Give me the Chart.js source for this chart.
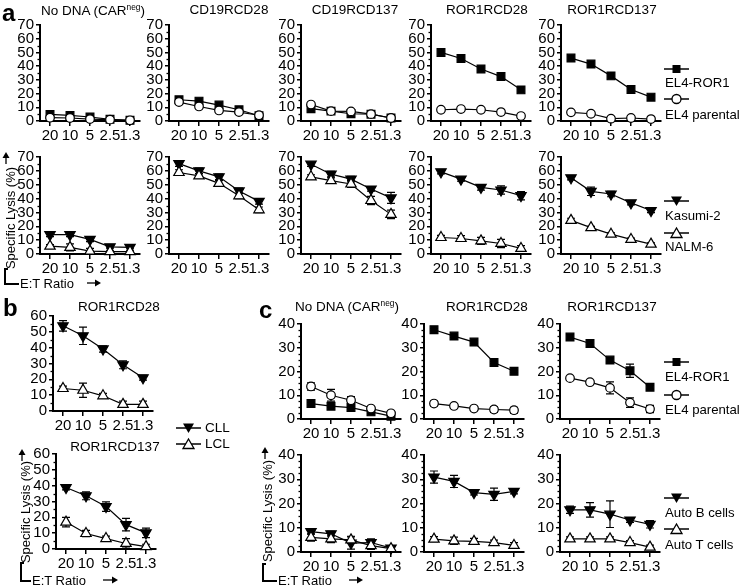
<!DOCTYPE html>
<html>
<head>
<meta charset="utf-8">
<script src="https://cdn.jsdelivr.net/npm/chart.js@4.4.1/dist/chart.umd.min.js"></script>
<style>
  html, body { margin: 0; padding: 0; background: #fff; }
  #stage { position: relative; width: 744px; height: 588px; overflow: hidden; }
  canvas { position: absolute; }
  .txt { position: absolute; line-height: 1; white-space: nowrap; color: #000;
         font-family: "Liberation Sans", Arial, sans-serif; }
  .ln { position: absolute; background: #000; }
  .sup { font-size: 0.62em; vertical-align: 0.55em; }
  svg { position: absolute; overflow: visible; }
</style>
</head>
<body>
<div id="stage"></div>
<script>
const etRatios = ["20", "10", "5", "2.5", "1.3"]

// a, top row: EL4-ROR1 (filled square) vs EL4 parental (open circle)
const aNoDnaRor1 = [4.8, 4.1, 2.9, 1.2, 0.5]
const aNoDnaParental = [2.4, 2.2, 1.4, 1.0, 0.5]
const aCd19Cd28Ror1 = [15.5, 14.5, 11.6, 8.2, 3.8]
const aCd19Cd28Parental = [13.8, 10.6, 7.7, 6.5, 4.2]
const aCd19Cd137Ror1 = [9, 7.2, 5.3, 5, 2.2]
const aCd19Cd137Parental = [12, 7.2, 7, 5, 2.2]
const aRor1Cd28Ror1 = [50, 45.6, 37.9, 32.4, 22.7]
const aRor1Cd28Parental = [8.2, 8.7, 8.2, 6.5, 3.6]
const aRor1Cd137Ror1 = [45.9, 41.5, 32.9, 23, 17.4]
const aRor1Cd137Parental = [6.3, 5.3, 1.7, 2.2, 1.4]
const aRor1Cd137ParentalErr = [1, 1, 1.5, 1.5, 1.5]

// a, bottom row: Kasumi-2 (filled down triangle) vs NALM-6 (open triangle)
const aNoDnaKasumi = [14, 14, 10.5, 5.2, 4.8]
const aNoDnaKasumiErr = [1.5, 1.5, 1.5, 1, 1]
const aNoDnaNalm = [5.7, 4.8, 2.1, 1.7, 1.7]
const aNoDnaNalmErr = [1, 2.5, 2, 1, 1]
const aCd19Cd28Kasumi = [65.2, 60, 55.7, 45.5, 38]
const aCd19Cd28KasumiErr = [2, 2, 2, 2, 2]
const aCd19Cd28Nalm = [58.8, 56.4, 51, 42, 31.9]
const aCd19Cd28NalmErr = [2, 1.5, 2, 2, 2]
const aCd19Cd137Kasumi = [64.8, 57.6, 54, 46.9, 40.5]
const aCd19Cd137KasumiErr = [1.5, 2, 2, 1.5, 4]
const aCd19Cd137Nalm = [55.7, 52.9, 50.5, 38.6, 28.6]
const aCd19Cd137NalmErr = [1.5, 2, 2.5, 3, 3]
const aRor1Cd28Kasumi = [59.3, 54, 48.1, 46.2, 42.1]
const aRor1Cd28KasumiErr = [1.5, 1.5, 2, 3, 3]
const aRor1Cd28Nalm = [11.9, 11.2, 9.5, 7.6, 4]
const aRor1Cd28NalmErr = [1.5, 2, 2.5, 3, 2]
const aRor1Cd137Kasumi = [55, 45.2, 43.3, 36.9, 31.4]
const aRor1Cd137KasumiErr = [1.5, 3, 2, 1.5, 1.5]
const aRor1Cd137Nalm = [24.3, 19, 14.3, 10.5, 7.1]
const aRor1Cd137NalmErr = [1.5, 1, 1, 1, 1]

// b: CLL vs LCL
const bCd28Cll = [53.8, 47.5, 39.2, 29.2, 21]
const bCd28CllErr = [3.3, 5.5, 2, 2.5, 1.5]
const bCd28Lcl = [14.2, 13.1, 9.6, 4.2, 4.2]
const bCd28LclErr = [1.5, 4.5, 1.5, 2, 2]
const bCd137Cll = [38.8, 33.6, 26.8, 15.4, 10.2]
const bCd137CllErr = [1.5, 2.5, 3, 4, 3]
const bCd137Lcl = [17, 9.8, 6.6, 3.5, 1.5]
const bCd137LclErr = [3, 2, 1.5, 3, 1.5]

// c, top row: EL4-ROR1 vs EL4 parental
const cNoDnaRor1 = [6.5, 5.4, 4.8, 3, 1.2]
const cNoDnaRor1Err = [0.5, 0.5, 0.5, 0.5, 0.5]
const cNoDnaParental = [13.7, 10, 7.9, 4.4, 2.4]
const cNoDnaParentalErr = [1.5, 2.5, 1.5, 0.8, 0.8]
const cRor1Cd28Ror1 = [37.6, 34.9, 32.4, 23.8, 20.1]
const cRor1Cd28Ror1Err = [0.5, 0.5, 0.5, 0.5, 0.5]
const cRor1Cd28Parental = [6.5, 5.5, 4.4, 4, 3.7]
const cRor1Cd28ParentalErr = [1, 0.5, 0.8, 1.2, 1.2]
const cRor1Cd137Ror1 = [34.5, 31.8, 24.8, 20.3, 13.4]
const cRor1Cd137Ror1Err = [1, 1.5, 0.8, 2.8, 0.8]
const cRor1Cd137Parental = [17.2, 15.5, 13.1, 6.9, 4.2]
const cRor1Cd137ParentalErr = [0.5, 0.8, 2.5, 2, 1.5]

// c, bottom row: Auto B cells vs Auto T cells
const cNoDnaAutoB = [8.4, 7.5, 3.7, 3.9, 1.6]
const cNoDnaAutoBErr = [1, 1, 2.5, 1.5, 1]
const cNoDnaAutoT = [6, 5.4, 5, 2.6, 1.4]
const cNoDnaAutoTErr = [1.5, 1.5, 1.5, 1.5, 1]
const cRor1Cd28AutoB = [30.9, 29.1, 24.5, 23.8, 25]
const cRor1Cd28AutoBErr = [2.5, 2.5, 1, 2.5, 1]
const cRor1Cd28AutoT = [5.3, 4.6, 4.4, 3.9, 2.7]
const cRor1Cd28AutoTErr = [1, 1.5, 1.2, 1, 1.2]
const cRor1Cd137AutoB = [17.4, 17.4, 15.6, 13.2, 11.4]
const cRor1Cd137AutoBErr = [1.5, 3, 5.5, 1, 1.5]
const cRor1Cd137AutoT = [5.4, 5.4, 5.4, 3.9, 2]
const cRor1Cd137AutoTErr = [0.8, 0.8, 0.8, 0.8, 0.8]

const FONT = "'Liberation Sans', Arial, sans-serif"
const YW = 34, PW = 100, PR = 14, PT = 10, XH = 26

const marker = {
  square: { pointStyle: "rect", pointRadius: 5.5, pointBackgroundColor: "#000" },
  circle: { pointStyle: "circle", pointRadius: 4.3, pointBackgroundColor: "#fff" },
  triDown: { pointStyle: "triangle", pointRadius: 6, pointRotation: 180, pointBackgroundColor: "#000" },
  triUp: { pointStyle: "triangle", pointRadius: 6, pointBackgroundColor: "#fff" },
}

// error bars drawn under the markers, through the y scale
const errorBars = {
  id: "errorBars",
  beforeDatasetsDraw(chart) {
    const ctx = chart.ctx
    const y = chart.scales.y
    ctx.save()
    ctx.strokeStyle = "#000"
    ctx.lineWidth = 1.2
    chart.data.datasets.forEach((ds, i) => {
      if (!ds.errors) return
      const meta = chart.getDatasetMeta(i)
      ds.errors.forEach((e, j) => {
        if (!e) return
        const v = ds.data[j].y
        const px = meta.data[j].x
        const top = y.getPixelForValue(v + e)
        const bot = y.getPixelForValue(Math.max(v - e, 0))
        ctx.beginPath()
        ctx.moveTo(px, top); ctx.lineTo(px, bot)
        ctx.moveTo(px - 4, top); ctx.lineTo(px + 4, top)
        ctx.moveTo(px - 4, bot); ctx.lineTo(px + 4, bot)
        ctx.stroke()
      })
    })
    ctx.restore()
  },
}

const minorTicks = {
  id: "minorTicks",
  afterDraw(chart, args, opts) {
    const y = chart.scales.y
    const ctx = chart.ctx
    ctx.save()
    ctx.strokeStyle = "#000"
    ctx.lineWidth = 1.3
    for (let v = opts.step; v < y.max; v += opts.step) {
      if (Math.abs(v / 10 - Math.round(v / 10)) < 1e-6) continue
      const py = Math.round(y.getPixelForValue(v)) + 0.5
      ctx.beginPath()
      ctx.moveTo(y.right - 2.5, py)
      ctx.lineTo(y.right, py)
      ctx.stroke()
    }
    ctx.restore()
  },
}

const stage = document.getElementById("stage")

function addText(html, x, y, size, center) {
  const d = document.createElement("div")
  d.className = "txt"
  d.innerHTML = html
  d.style.fontSize = size + "px"
  d.style.left = x + "px"
  d.style.top = y + "px"
  d.style.transform = center ? "translate(-50%, -50%)" : "translate(0, -50%)"
  stage.appendChild(d)
  return d
}

function addLine(x, y, w, h) {
  const d = document.createElement("div")
  d.className = "ln"
  d.style.cssText = `left:${x}px;top:${y}px;width:${w}px;height:${h}px`
  stage.appendChild(d)
}

function addSvg(x, y, w, h, inner) {
  const d = document.createElement("div")
  d.style.cssText = `position:absolute;left:${x}px;top:${y}px;width:${w}px;height:${h}px`
  d.innerHTML = `<svg width="${w}" height="${h}">${inner}</svg>`
  stage.appendChild(d)
}

function makeDataset(values, errors, style) {
  return {
    data: values.map((v, i) => ({ x: i, y: v })),
    errors: errors,
    borderColor: "#000",
    borderWidth: 1.2,
    pointBorderColor: "#000",
    pointBorderWidth: 1.2,
    clip: false,
    ...marker[style],
  }
}

function makeChart(p) {
  const cv = document.createElement("canvas")
  const w = YW + PW + PR
  const h = PT + p.h + XH
  cv.width = w
  cv.height = h
  cv.style.left = p.left - YW + "px"
  cv.style.top = p.top - PT + "px"
  stage.appendChild(cv)
  const font = { family: FONT, size: 15 }
  new Chart(cv.getContext("2d"), {
    type: "line",
    data: { datasets: p.series.map((s) => makeDataset(s[0], s[1], s[2])) },
    options: {
      responsive: false,
      animation: false,
      events: [],
      layout: { padding: { top: PT, right: PR, left: 0, bottom: 0 } },
      plugins: { legend: { display: false }, tooltip: { enabled: false }, minorTicks: { step: p.minor } },
      scales: {
        x: {
          type: "linear",
          min: -0.5,
          max: 4.5,
          afterBuildTicks: (s) => { s.ticks = etRatios.map((_, i) => ({ value: i })) },
          afterFit: (s) => { s.height = XH },
          ticks: { callback: (v) => etRatios[v], color: "#000", font, padding: 1, maxRotation: 0, autoSkip: false },
          grid: { drawOnChartArea: false, color: "#000", lineWidth: 1.5, tickLength: 5 },
          border: { color: "#000", width: 2 },
        },
        y: {
          min: 0,
          max: p.max,
          afterFit: (s) => { s.width = YW },
          ticks: { stepSize: 10, color: "#000", font, padding: 2, autoSkip: false },
          grid: { drawOnChartArea: false, color: "#000", lineWidth: 1.5, tickLength: 4 },
          border: { color: "#000", width: 2 },
        },
      },
    },
    plugins: [errorBars, minorTicks],
  })
  if (p.title) addText(p.title, p.titleX, p.titleY, 13.5, true)
}

const neg = 'No DNA (CAR<span class="sup">neg</span>)'

const panels = [
  // a, top
  { left: 40, top: 24, h: 97, max: 70, minor: 5, title: neg, titleX: 93, titleY: 10,
    series: [[aNoDnaParental, null, "circle"], [aNoDnaRor1, null, "square"]] },
  { left: 169, top: 24, h: 97, max: 70, minor: 5, title: "CD19RCD28", titleX: 229, titleY: 10,
    series: [[aCd19Cd28Parental, null, "circle"], [aCd19Cd28Ror1, null, "square"]] },
  { left: 301, top: 24, h: 97, max: 70, minor: 5, title: "CD19RCD137", titleX: 355, titleY: 10,
    series: [[aCd19Cd137Parental, null, "circle"], [aCd19Cd137Ror1, null, "square"]] },
  { left: 431, top: 24, h: 97, max: 70, minor: 5, title: "ROR1RCD28", titleX: 487, titleY: 10,
    series: [[aRor1Cd28Parental, null, "circle"], [aRor1Cd28Ror1, null, "square"]] },
  { left: 561, top: 24, h: 97, max: 70, minor: 5, title: "ROR1RCD137", titleX: 612, titleY: 10,
    series: [[aRor1Cd137Parental, aRor1Cd137ParentalErr, "circle"], [aRor1Cd137Ror1, null, "square"]] },
  // a, bottom
  { left: 40, top: 156, h: 98, max: 70, minor: 5,
    series: [[aNoDnaNalm, aNoDnaNalmErr, "triUp"], [aNoDnaKasumi, aNoDnaKasumiErr, "triDown"]] },
  { left: 169, top: 156, h: 98, max: 70, minor: 5,
    series: [[aCd19Cd28Nalm, aCd19Cd28NalmErr, "triUp"], [aCd19Cd28Kasumi, aCd19Cd28KasumiErr, "triDown"]] },
  { left: 301, top: 156, h: 98, max: 70, minor: 5,
    series: [[aCd19Cd137Nalm, aCd19Cd137NalmErr, "triUp"], [aCd19Cd137Kasumi, aCd19Cd137KasumiErr, "triDown"]] },
  { left: 431, top: 156, h: 98, max: 70, minor: 5,
    series: [[aRor1Cd28Nalm, aRor1Cd28NalmErr, "triUp"], [aRor1Cd28Kasumi, aRor1Cd28KasumiErr, "triDown"]] },
  { left: 561, top: 156, h: 98, max: 70, minor: 5,
    series: [[aRor1Cd137Nalm, aRor1Cd137NalmErr, "triUp"], [aRor1Cd137Kasumi, aRor1Cd137KasumiErr, "triDown"]] },
  // b
  { left: 53, top: 315, h: 96, max: 60, minor: 5, title: "ROR1RCD28", titleX: 119, titleY: 307,
    series: [[bCd28Lcl, bCd28LclErr, "triUp"], [bCd28Cll, bCd28CllErr, "triDown"]] },
  { left: 56, top: 453, h: 96, max: 60, minor: 5, title: "ROR1RCD137", titleX: 115, titleY: 447,
    series: [[bCd137Lcl, bCd137LclErr, "triUp"], [bCd137Cll, bCd137CllErr, "triDown"]] },
  // c, top
  { left: 301, top: 323, h: 96, max: 40, minor: 2.5, title: neg, titleX: 347, titleY: 306,
    series: [[cNoDnaParental, cNoDnaParentalErr, "circle"], [cNoDnaRor1, cNoDnaRor1Err, "square"]] },
  { left: 424, top: 323, h: 96, max: 40, minor: 2.5, title: "ROR1RCD28", titleX: 487, titleY: 307,
    series: [[cRor1Cd28Parental, cRor1Cd28ParentalErr, "circle"], [cRor1Cd28Ror1, cRor1Cd28Ror1Err, "square"]] },
  { left: 560, top: 323, h: 96, max: 40, minor: 2.5, title: "ROR1RCD137", titleX: 612, titleY: 307,
    series: [[cRor1Cd137Parental, cRor1Cd137ParentalErr, "circle"], [cRor1Cd137Ror1, cRor1Cd137Ror1Err, "square"]] },
  // c, bottom
  { left: 301, top: 454, h: 98, max: 40, minor: 2.5,
    series: [[cNoDnaAutoT, cNoDnaAutoTErr, "triUp"], [cNoDnaAutoB, cNoDnaAutoBErr, "triDown"]] },
  { left: 424, top: 454, h: 98, max: 40, minor: 2.5,
    series: [[cRor1Cd28AutoT, cRor1Cd28AutoTErr, "triUp"], [cRor1Cd28AutoB, cRor1Cd28AutoBErr, "triDown"]] },
  { left: 560, top: 454, h: 98, max: 40, minor: 2.5,
    series: [[cRor1Cd137AutoT, cRor1Cd137AutoTErr, "triUp"], [cRor1Cd137AutoB, cRor1Cd137AutoBErr, "triDown"]] },
]

panels.forEach(makeChart)

// legend symbols
function legendSymbol(kind, cx, cy) {
  const shapes = {
    square: '<rect x="8.5" y="3" width="8" height="8" fill="#000"/>',
    circle: '<circle cx="12.5" cy="7" r="4.5" fill="#fff" stroke="#000" stroke-width="1.3"/>',
    triDown: '<polygon points="7,2.5 18,2.5 12.5,12" fill="#000"/>',
    triUp: '<polygon points="7,11.5 18,11.5 12.5,2" fill="#fff" stroke="#000" stroke-width="1.3"/>',
  }
  addSvg(cx - 12.5, cy - 7, 25, 14,
    '<line x1="0" y1="7" x2="25" y2="7" stroke="#000" stroke-width="1.5"/>' + shapes[kind])
}

const legends = [
  ["square", "EL4-ROR1", 69, 83],
  ["circle", "EL4 parental", 99, 115],
  ["triDown", "Kasumi-2", 201, 216],
  ["triUp", "NALM-6", 233, 247],
  ["square", "EL4-ROR1", 362, 377],
  ["circle", "EL4 parental", 395, 410],
  ["triDown", "Auto B cells", 498, 513],
  ["triUp", "Auto T cells", 529, 545],
]
legends.forEach(([kind, label, my, ty]) => {
  legendSymbol(kind, 676.5, my)
  addText(label, 665, ty, 13.2)
})
legendSymbol("triDown", 188, 428)
addText("CLL", 205, 428, 13.5)
legendSymbol("triUp", 188, 444)
addText("LCL", 205, 444, 13.5)

// panel letters
addText("a", 2, 13, 24).style.fontWeight = "bold"
addText("b", 3, 308, 24).style.fontWeight = "bold"
addText("c", 259, 310, 24).style.fontWeight = "bold"

// axis captions with the bracket and arrows
function upArrow(x, y0, y1) {
  addSvg(x - 4, y0, 8, y1 - y0,
    `<line x1="4" y1="5" x2="4" y2="${y1 - y0}" stroke="#000" stroke-width="1.3"/>` +
    '<polygon points="0.5,6 7.5,6 4,0" fill="#000"/>')
}
function rightArrow(x0, x1, y) {
  const w = x1 - x0
  addSvg(x0, y - 4, w, 8,
    `<line x1="0" y1="4" x2="${w - 5}" y2="4" stroke="#000" stroke-width="1.3"/>` +
    `<polygon points="${w - 6},0.5 ${w - 6},7.5 ${w},4" fill="#000"/>`)
}
function axisCaption(cx, cy, ax, ay0, ay1, bx, by0, by1, tx, ty, rx0, rx1) {
  const v = addText("Specific Lysis (%)", cx, cy, 13, true)
  v.style.transform = "translate(-50%, -50%) rotate(-90deg)"
  upArrow(ax, ay0, ay1)
  addLine(bx, by0, 1.5, by1 - by0 + 1.5)
  addLine(bx, by0, 4, 1.5)
  addLine(bx, by1, tx - bx - 1, 1.5)
  addText("E:T Ratio", tx, ty, 13)
  rightArrow(rx0, rx1, ty)
}
axisCaption(9.5, 218, 6, 152, 164, 4, 268, 283, 20, 283, 87, 101)
axisCaption(25, 512, 22, 449, 461, 20, 562, 580, 32, 580, 103, 118)
axisCaption(267, 511, 264.5, 447, 459, 262, 563, 580, 278, 580, 349, 363)
</script>
</body>
</html>
